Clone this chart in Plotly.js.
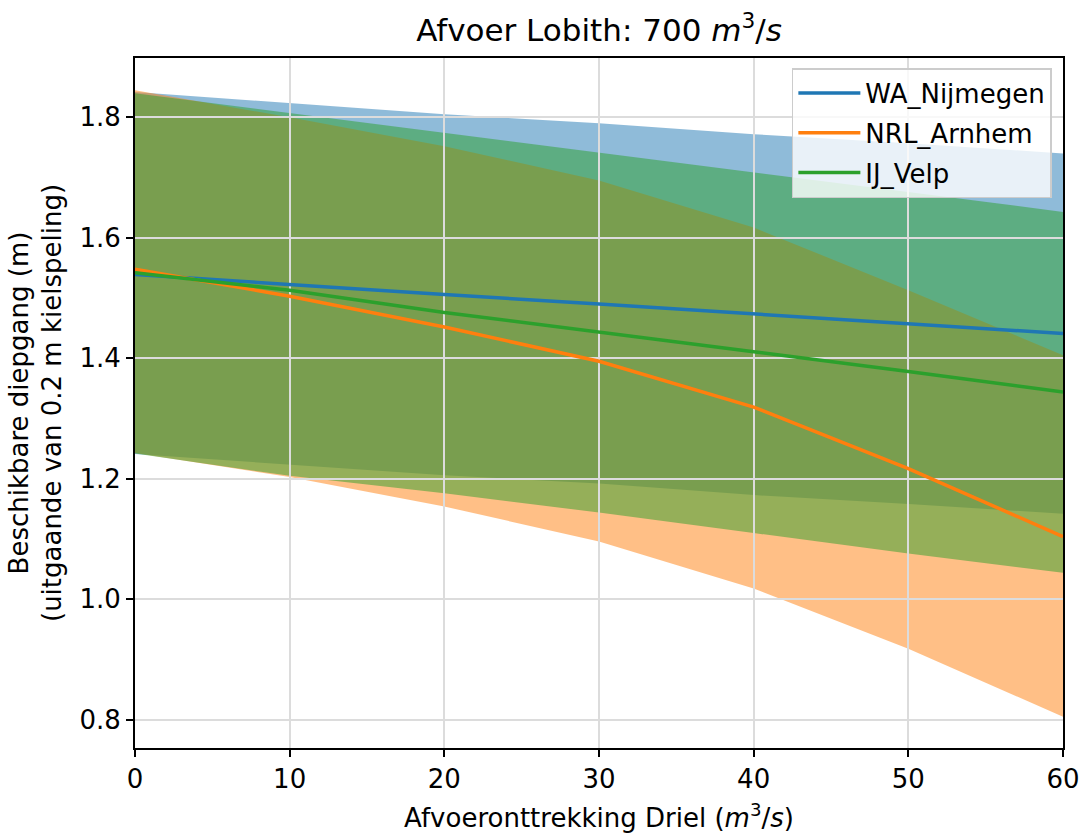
<!DOCTYPE html>
<html>
<head>
<meta charset="utf-8">
<script src="https://cdn.plot.ly/plotly-3.0.1.min.js"></script>
<style>html,body{margin:0;padding:0;background:#fff;}#chart{width:1081px;height:834px;}</style>
</head>
<body>
<div id="chart"></div>
<script>
// Afvoeronttrekking Driel (m3/s)
const afvoer = [0, 10, 20, 30, 40, 50, 60];

const seriesNames = ["WA_Nijmegen", "NRL_Arnhem", "IJ_Velp"];

const waMean  = [1.539, 1.522, 1.506, 1.490, 1.474, 1.457, 1.441];
const waUpper = [1.842, 1.823, 1.805, 1.790, 1.772, 1.757, 1.740];
const waLower = [1.241, 1.223, 1.206, 1.192, 1.173, 1.158, 1.142];

const nrlMean  = [1.548, 1.503, 1.452, 1.395, 1.319, 1.217, 1.104];
const nrlUpper = [1.845, 1.800, 1.752, 1.695, 1.617, 1.513, 1.405];
const nrlLower = [1.243, 1.203, 1.154, 1.096, 1.018, 0.918, 0.805];

const ijMean  = [1.542, 1.513, 1.476, 1.444, 1.411, 1.378, 1.344];
const ijUpper = [1.840, 1.807, 1.774, 1.742, 1.709, 1.676, 1.643];
const ijLower = [1.242, 1.205, 1.176, 1.144, 1.110, 1.076, 1.044];

const yTickVals = [0.8, 1.0, 1.2, 1.4, 1.6, 1.8];
const xTickVals = [0, 10, 20, 30, 40, 50, 60];

const lineColors = ["#1f77b4", "#ff7f0e", "#2ca02c"];
const fillColors = ["rgba(31,119,180,0.5)", "rgba(255,127,14,0.5)", "rgba(44,160,44,0.5)"];

const means = [waMean, nrlMean, ijMean];
const uppers = [waUpper, nrlUpper, ijUpper];
const lowers = [waLower, nrlLower, ijLower];

const traces = [];
// bands on subplot 1 (below grid)
for (let i = 0; i < 3; i++) {
  traces.push({
    x: afvoer, y: lowers[i], type: "scatter", mode: "lines",
    line: {width: 0, color: fillColors[i]}, showlegend: false, hoverinfo: "skip",
    xaxis: "x", yaxis: "y"
  });
  traces.push({
    x: afvoer, y: uppers[i], type: "scatter", mode: "lines",
    line: {width: 0, color: fillColors[i]}, fill: "tonexty", fillcolor: fillColors[i],
    showlegend: false, hoverinfo: "skip",
    xaxis: "x", yaxis: "y"
  });
}
// lines on subplot 2 (above grid)
for (let i = 0; i < 3; i++) {
  traces.push({
    x: afvoer, y: means[i], type: "scatter", mode: "lines", name: seriesNames[i],
    legendgroup: "g" + i,
    line: {width: 3.5, color: lineColors[i]},
    xaxis: "x2", yaxis: "y2"
  });
}

const font = {family: "DejaVu Sans", size: 26, color: "#000"};
const xRange = [0, 60];
const yRange = [0.7532, 1.8984];

const layout = {
  width: 1081, height: 834,
  margin: {l: 135, r: 18, t: 58, b: 86},
  paper_bgcolor: "#fff", plot_bgcolor: "rgba(0,0,0,0)",
  font: font,
  title: {
    text: "Afvoer Lobith: 700 <i>m</i><sup>3</sup>/<i>s</i>",
    font: {family: "DejaVu Sans", size: 31, color: "#000"},
    x: 0.5, xref: "paper", xanchor: "center",
    y: 1 - 30 / 834, yref: "container", yanchor: "middle"
  },
  xaxis: {domain: [0, 1], range: xRange, visible: false, fixedrange: true},
  yaxis: {domain: [0, 1], range: yRange, visible: false, fixedrange: true},
  xaxis2: {
    domain: [0, 1], anchor: "y2", range: xRange,
    tickvals: xTickVals, ticks: "outside", ticklen: 7, tickwidth: 1.9, tickcolor: "#000",
    showline: true, mirror: true, linecolor: "#000", linewidth: 1.9,
    showgrid: true, gridcolor: "#dcdcdc", gridwidth: 2, zeroline: false,
    layer: "above traces",
    tickfont: font,
    title: {text: "Afvoeronttrekking Driel (<i>m</i><sup>3</sup>/<i>s</i>)", font: font, standoff: 16}
  },
  yaxis2: {
    domain: [0, 1], anchor: "x2", range: yRange,
    tickvals: yTickVals, tickformat: ".1f", ticks: "outside", ticklen: 7, tickwidth: 1.9, tickcolor: "#000",
    showline: true, mirror: true, linecolor: "#000", linewidth: 1.9,
    showgrid: true, gridcolor: "#dcdcdc", gridwidth: 2, zeroline: false,
    layer: "above traces",
    tickfont: font,
    title: {text: "Beschikbare diepgang (m)<br>(uitgaande van 0.2 m kielspeling)", font: font, standoff: 10}
  },
  legend: {
    x: 0.988, y: 0.9855, xanchor: "right", yanchor: "top",
    traceorder: "grouped", tracegroupgap: 3,
    bgcolor: "rgba(255,255,255,0.8)", bordercolor: "#cccccc", borderwidth: 1.5,
    font: font, itemwidth: 62
  },
  showlegend: true
};

Plotly.newPlot("chart", traces, layout, {displayModeBar: false, staticPlot: true});
</script>
</body>
</html>
